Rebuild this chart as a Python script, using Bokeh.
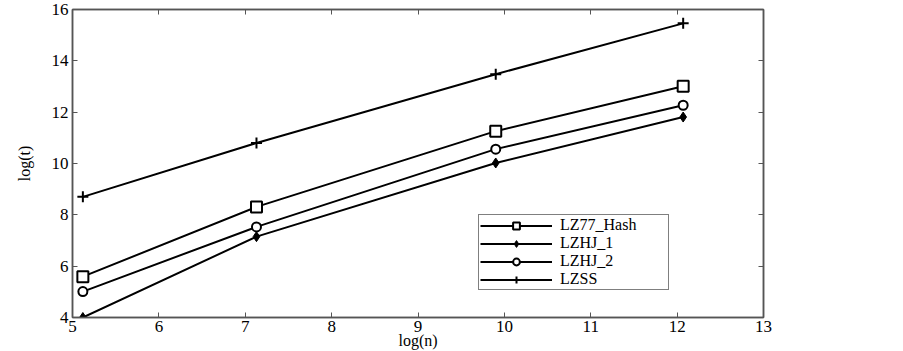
from bokeh.plotting import figure
from bokeh.models import LinearAxis, Legend, LegendItem, FixedTicker, Range1d
from bokeh.embed import file_html
from bokeh.resources import INLINE

x_vals = [5.12, 7.13, 9.9, 12.07]
lz77_hash = [5.59, 8.31, 11.26, 13.01]
lzhj_1 = [4.0, 7.15, 10.02, 11.81]
lzhj_2 = [5.01, 7.53, 10.56, 12.27]
lzss = [8.70, 10.80, 13.48, 15.46]
x_ticks = [5, 6, 7, 8, 9, 10, 11, 12, 13]
y_ticks = [4, 6, 8, 10, 12, 14, 16]

FONT = "Liberation Serif"
AX = "#555555"

p = figure(width=895, height=351, output_backend="svg", toolbar_location=None,
           x_range=Range1d(5, 13), y_range=Range1d(4, 16),
           min_border_left=72, min_border_right=132, min_border_top=9, min_border_bottom=33)
p.xgrid.visible = False
p.ygrid.visible = False
p.outline_line_color = AX
p.outline_line_width = 1.5
p.background_fill_color = "white"
p.border_fill_color = "white"

bottom = p.below[0]
left = p.left[0]
bottom.ticker = FixedTicker(ticks=x_ticks)
left.ticker = FixedTicker(ticks=y_ticks)

top = LinearAxis(ticker=FixedTicker(ticks=x_ticks), major_label_text_font_size="0px",
                 major_label_standoff=0)
right = LinearAxis(ticker=FixedTicker(ticks=y_ticks), major_label_text_font_size="0px",
                   major_label_standoff=0)
p.add_layout(top, "above")
p.add_layout(right, "right")

for ax in [bottom, left, top, right]:
    ax.major_tick_in = 5
    ax.major_tick_out = 0
    ax.minor_tick_in = 0
    ax.minor_tick_out = 0
    ax.axis_line_color = AX
    ax.axis_line_width = 1.5
    ax.major_tick_line_color = AX

for ax in [bottom, left]:
    ax.major_label_text_font = FONT
    ax.major_label_text_font_size = "17px"
    ax.major_label_text_font_style = "normal"
    ax.major_label_text_color = "black"
    ax.axis_label_text_font = FONT
    ax.axis_label_text_font_size = "16px"
    ax.axis_label_text_font_style = "normal"
    ax.axis_label_text_color = "black"

bottom.axis_label = "log(n)"
left.axis_label = "log(t)"
bottom.major_label_standoff = 3
bottom.axis_label_standoff = -3
left.major_label_standoff = 4
left.axis_label_standoff = 16

LW = 2
l1 = p.line(x_vals, lz77_hash, line_color="black", line_width=LW)
m1 = p.scatter(x_vals, lz77_hash, marker="square", size=11, fill_color="white",
               line_color="black", line_width=2)
l2 = p.line(x_vals, lzhj_1, line_color="black", line_width=LW)
m2 = p.scatter(x_vals, lzhj_1, marker="diamond", size=10, fill_color="black",
               line_color="black", line_width=1)
l3 = p.line(x_vals, lzhj_2, line_color="black", line_width=LW)
m3 = p.scatter(x_vals, lzhj_2, marker="circle", size=9, fill_color="white",
               line_color="black", line_width=2)
l4 = p.line(x_vals, lzss, line_color="black", line_width=LW)
m4 = p.scatter(x_vals, lzss, marker="cross", size=11, line_color="black", line_width=2)

legend = Legend(items=[
    LegendItem(label="LZ77_Hash", renderers=[l1, m1]),
    LegendItem(label="LZHJ_1", renderers=[l2, m2]),
    LegendItem(label="LZHJ_2", renderers=[l3, m3]),
    LegendItem(label="LZSS", renderers=[l4, m4]),
], location=(406, 27))
legend.label_text_font = FONT
legend.label_text_font_size = "16px"
legend.label_text_color = "black"
legend.glyph_width = 72
legend.glyph_height = 17
legend.label_height = 17
legend.label_width = 107
legend.spacing = 0
legend.padding = 1
legend.margin = 0
legend.label_standoff = 8
legend.border_line_color = "black"
legend.border_line_width = 1.5
legend.background_fill_alpha = 1
p.add_layout(legend, "center")

open("out.html", "w").write(file_html(p, INLINE))
